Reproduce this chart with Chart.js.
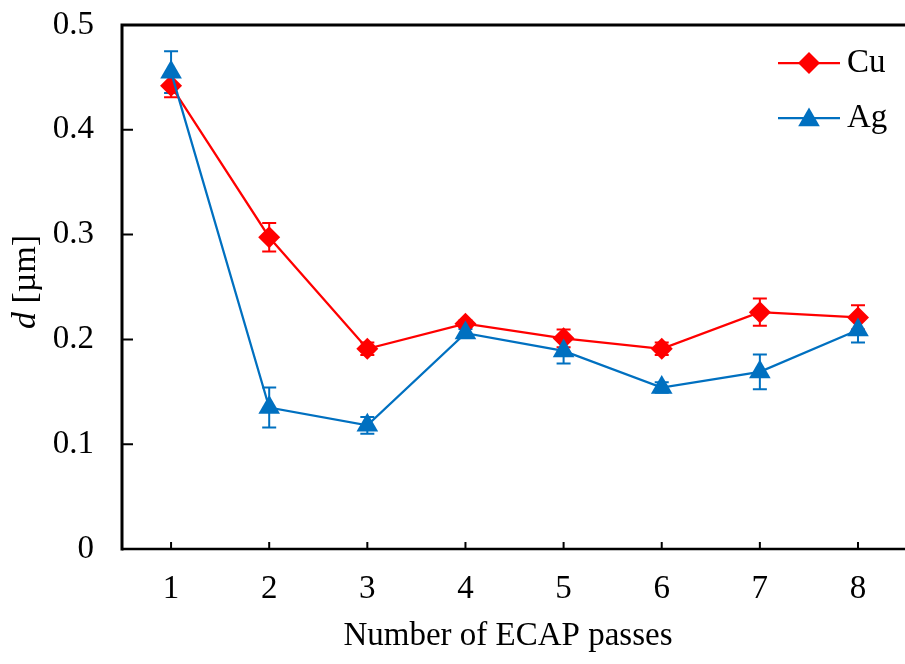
<!DOCTYPE html>
<html>
<head>
<meta charset="utf-8">
<script src="https://cdn.jsdelivr.net/npm/chart.js@4/dist/chart.umd.min.js"></script>
<style>
  html, body { margin: 0; padding: 0; background: #fff; overflow: hidden; }
  canvas { display: block; }
</style>
</head>
<body>
<canvas id="chart" width="905" height="664"></canvas>
<script>
// grain size vs ECAP passes
const PASSES = [1, 2, 3, 4, 5, 6, 7, 8];
const Y_TICKS = [0, 0.1, 0.2, 0.3, 0.4, 0.5];

const CU = [0.442, 0.2975, 0.191, 0.215, 0.201, 0.191, 0.226, 0.221];
const CU_ERR = [0.011, 0.0136, 0.006, 0.003, 0.0085, 0.006, 0.013, 0.0115];

const AG = [0.455, 0.135, 0.118, 0.206, 0.189, 0.154, 0.169, 0.209];
const AG_ERR = [0.020, 0.019, 0.008, 0.004, 0.012, 0.005, 0.0165, 0.012];

const RED = "#ff0000";
const BLUE = "#0070c0";
const FONT_FAMILY = "'Liberation Serif', 'Times New Roman', serif";
const FONT = { family: FONT_FAMILY, size: 33 };

const LEGEND = [
  { label: "Cu", color: RED, style: "rectRot", radius: 11 },
  { label: "Ag", color: BLUE, style: "triangle", radius: 12.5 },
];

function drawMarker(ctx, style, x, y, r) {
  ctx.beginPath();
  if (style === "triangle") {
    ctx.moveTo(x, y - r);
    ctx.lineTo(x + r * Math.sin(Math.PI * 2 / 3), y + r / 2);
    ctx.lineTo(x - r * Math.sin(Math.PI * 2 / 3), y + r / 2);
  } else {
    ctx.moveTo(x - r, y);
    ctx.lineTo(x, y - r);
    ctx.lineTo(x + r, y);
    ctx.lineTo(x, y + r);
  }
  ctx.closePath();
  ctx.fill();
}

const errorBars = {
  id: "errorBars",
  beforeDatasetsDraw(chart) {
    const { ctx } = chart;
    const y = chart.scales.y;
    chart.data.datasets.forEach((ds, i) => {
      const meta = chart.getDatasetMeta(i);
      ctx.save();
      ctx.strokeStyle = ds.borderColor;
      ctx.lineWidth = 2;
      meta.data.forEach((pt, j) => {
        const v = ds.data[j].y;
        const e = ds.errors[j];
        const top = y.getPixelForValue(v + e);
        const bot = y.getPixelForValue(v - e);
        ctx.beginPath();
        ctx.moveTo(pt.x, top);
        ctx.lineTo(pt.x, bot);
        ctx.moveTo(pt.x - 7, top);
        ctx.lineTo(pt.x + 7, top);
        ctx.moveTo(pt.x - 7, bot);
        ctx.lineTo(pt.x + 7, bot);
        ctx.stroke();
      });
      ctx.restore();
    });
  },
};

const frame = {
  id: "frame",
  afterDraw(chart) {
    const { ctx, chartArea: a, scales } = chart;
    ctx.save();
    ctx.strokeStyle = "#000";

    // axes + top border
    ctx.lineWidth = 3;
    ctx.beginPath();
    ctx.moveTo(a.left, a.top);
    ctx.lineTo(a.right, a.top);
    ctx.moveTo(a.left, a.top - 1.5);
    ctx.lineTo(a.left, a.bottom + 1.5);
    ctx.stroke();
    ctx.lineWidth = 2.5;
    ctx.beginPath();
    ctx.moveTo(a.left, a.bottom);
    ctx.lineTo(a.right, a.bottom);
    ctx.stroke();

    // inward ticks
    ctx.lineWidth = 2;
    ctx.beginPath();
    Y_TICKS.slice(1).forEach(v => {
      const py = scales.y.getPixelForValue(v);
      ctx.moveTo(a.left, py);
      ctx.lineTo(a.left + 11, py);
    });
    PASSES.forEach(v => {
      const px = scales.x.getPixelForValue(v);
      ctx.moveTo(px, a.bottom);
      ctx.lineTo(px, a.bottom - 7);
    });
    ctx.stroke();

    // axis titles
    ctx.fillStyle = "#000";
    ctx.textBaseline = "middle";
    ctx.textAlign = "center";
    ctx.font = `33px ${FONT_FAMILY}`;
    ctx.fillText("Number of ECAP passes", 508, 636);

    ctx.save();
    ctx.translate(26, 282);
    ctx.rotate(-Math.PI / 2);
    ctx.font = `italic 34px ${FONT_FAMILY}`;
    const w1 = ctx.measureText("d").width;
    ctx.font = `34px ${FONT_FAMILY}`;
    const w2 = ctx.measureText(" [µm]").width;
    ctx.textAlign = "left";
    ctx.font = `italic 34px ${FONT_FAMILY}`;
    ctx.fillText("d", -(w1 + w2) / 2, 0);
    ctx.font = `34px ${FONT_FAMILY}`;
    ctx.fillText(" [µm]", -(w1 + w2) / 2 + w1, 0);
    ctx.restore();

    // legend
    LEGEND.forEach((item, i) => {
      const ly = 63 + i * 55;
      ctx.strokeStyle = item.color;
      ctx.fillStyle = item.color;
      ctx.lineWidth = 2.25;
      ctx.beginPath();
      ctx.moveTo(778, ly);
      ctx.lineTo(840, ly);
      ctx.stroke();
      drawMarker(ctx, item.style, 809, item.style === "triangle" ? ly + 2 : ly, item.radius);
      ctx.fillStyle = "#000";
      ctx.textAlign = "left";
      ctx.font = `33px ${FONT_FAMILY}`;
      ctx.fillText(item.label, 847, ly);
    });

    ctx.restore();
  },
};

const toPoints = vals => vals.map((v, i) => ({ x: PASSES[i], y: v }));

new Chart(document.getElementById("chart").getContext("2d"), {
  type: "line",
  data: {
    datasets: [
      {
        label: "Cu",
        data: toPoints(CU),
        errors: CU_ERR,
        borderColor: RED,
        backgroundColor: RED,
        borderWidth: 2.25,
        pointStyle: "rectRot",
        pointRadius: 11,
        pointBorderWidth: 0,
        tension: 0,
        order: 1,
      },
      {
        label: "Ag",
        data: toPoints(AG),
        errors: AG_ERR,
        borderColor: BLUE,
        backgroundColor: BLUE,
        borderWidth: 2.25,
        pointStyle: "triangle",
        pointRadius: 12.5,
        pointBorderWidth: 0,
        tension: 0,
        order: 0,
      },
    ],
  },
  options: {
    responsive: false,
    animation: false,
    layout: { autoPadding: false, padding: { top: 25, right: 0, left: 0, bottom: 0 } },
    plugins: {
      legend: { display: false },
      tooltip: { enabled: false },
    },
    scales: {
      x: {
        type: "linear",
        min: 0.5,
        max: 8.479,
        afterFit: s => { s.height = 115; s.paddingLeft = 0; s.paddingRight = 0; },
        afterBuildTicks: s => { s.ticks = PASSES.map(v => ({ value: v })); },
        grid: { display: false, drawTicks: false },
        border: { display: false },
        ticks: { font: FONT, color: "#000", padding: 21, maxRotation: 0 },
      },
      y: {
        min: 0,
        max: 0.5,
        afterFit: s => { s.width = 122; s.paddingTop = 0; s.paddingBottom = 0; },
        afterBuildTicks: s => { s.ticks = Y_TICKS.map(v => ({ value: v })); },
        grid: { display: false, drawTicks: false },
        border: { display: false },
        ticks: { font: FONT, color: "#000", padding: 28, callback: v => String(v) },
      },
    },
  },
  plugins: [errorBars, frame],
});
</script>
</body>
</html>
